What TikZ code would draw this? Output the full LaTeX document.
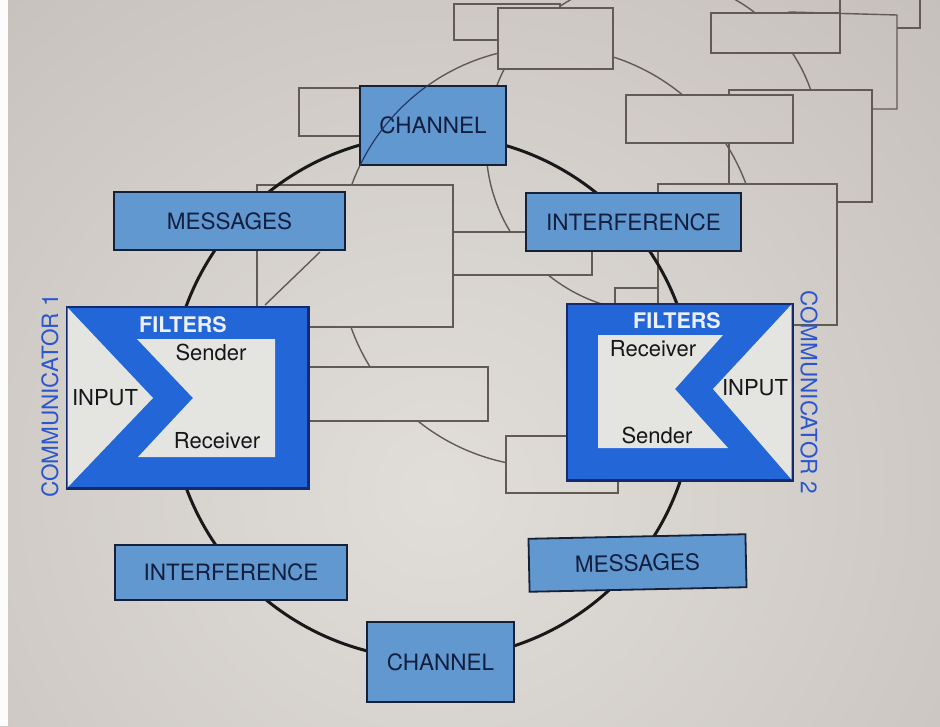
\documentclass[tikz,border=0pt]{standalone}
\usepackage{fontspec}
\setmainfont{TeX Gyre Heros}
\definecolor{bgin}{RGB}{225,222,218}
\definecolor{bgout}{RGB}{180,172,167}
\definecolor{ghost}{RGB}{98,90,84}
\definecolor{boxblue}{RGB}{98,152,208}
\definecolor{boxedge}{RGB}{22,32,55}
\definecolor{boxtext}{RGB}{18,30,62}
\definecolor{filterblue}{RGB}{34,102,216}
\definecolor{filteredge}{RGB}{20,42,110}
\definecolor{innerwhite}{RGB}{228,228,225}
\definecolor{commblue}{RGB}{42,86,205}
\definecolor{overprint}{RGB}{35,55,105}
\definecolor{ringcol}{RGB}{25,25,25}
\newcommand\pagebg{\shade[inner color=bgin, outer color=bgout] (-760,-660) rectangle (1640,1640);}
\newcommand\gbox[4]{\begin{scope}\clip (#1,#2) rectangle (#3,#4);\pagebg\end{scope}\draw[ghostline] (#1,#2) rectangle (#3,#4);}
\begin{document}
\begin{tikzpicture}[x=1pt,y=-1pt,
  ghostline/.style={draw=ghost, line width=1.4pt},
  ringline/.style={draw=ringcol, line width=3pt},
  lbox/.style={draw=boxedge, fill=boxblue, line width=1.8pt, text=boxtext,
    font=\fontsize{22.5}{24}\selectfont, inner sep=0pt},
  fbox/.style={fill=filterblue, draw=filteredge, line width=1.5pt, inner sep=0pt},
  wtext/.style={text={rgb,255:red,236;green,240;blue,248}, font=\fontsize{21.5}{23}\selectfont\bfseries, inner sep=0pt},
  btext/.style={text={rgb,255:red,22;green,22;blue,26}, font=\fontsize{22}{24}\selectfont, inner sep=0pt},
  ctext/.style={text=commblue, font=\fontsize{22.5}{24}\selectfont, inner sep=0pt}]
\useasboundingbox (0,0) rectangle (940,726);
\begin{scope}
\clip (0,0) rectangle (940,726);
\pagebg
\fill[white!92!bgin] (0,0) rectangle (8,726);
% ---- ghost layer 4 ----
\gbox{840}{-10}{920}{28}
% ---- ghost layer 3 ----
\begin{scope}\clip (789,12) rectangle (897,109);\pagebg\end{scope}
\draw[ghostline] (789,17) -- (789,12) -- (897,15) -- (897,109) -- (860,109);
% ---- ghost layer 2 ----
\draw[ghostline] (653,145) circle[radius=167];
\gbox{454}{4}{560}{40}
\gbox{711}{13}{840}{53}
\gbox{729}{90}{872}{202}
\gbox{440}{232}{592}{275}
\gbox{615}{288}{718}{340}
% ---- ghost layer 1 ----
\draw[ghostline] (549,257) circle[radius=210];
\gbox{498}{8}{613}{69}
\gbox{299}{88}{479}{136}
\gbox{626}{95}{793}{143}
\gbox{257}{185}{453}{327}
\gbox{658}{184}{837}{325}
\gbox{300}{367}{488}{421}
\gbox{506}{436}{618}{493}
\gbox{626}{369}{790}{411}
\draw[ghostline] (320,252) -- (265,305);
% ---- front ring ----
\coordinate (o) at (432,397);
\draw[ringline] (o) circle[radius=262];
% ---- front boxes ----
\node[lbox, minimum width=146pt, minimum height=79pt] (ch1) at (433,125.5) {CHANNEL};
\node[lbox, minimum width=231pt, minimum height=58pt] (msg1) at (229.5,221) {MESSAGES};
\node[lbox, minimum width=215pt, minimum height=58pt] (int1) at (633.5,222) {INTERFERENCE};
\node[lbox, minimum width=232pt, minimum height=55pt] (int2) at (231,572.5) {INTERFERENCE};
\node[lbox, minimum width=147pt, minimum height=80pt] (ch2) at (440.5,662) {CHANNEL};
\node[lbox, minimum width=217pt, minimum height=53pt, rotate=1.2] (msg2) at (637.5,563) {MESSAGES};
% overprinted ghost arc on the top channel box
\begin{scope}
\clip (ch1.south west) rectangle (ch1.north east);
\draw[overprint, line width=1.2pt] (549,257) circle[radius=210];
\end{scope}
% ---- filters 1 ----
\node[fbox, minimum width=241pt, minimum height=181pt] (f1) at (187.5,397.5) {};
\fill[innerwhite] (67.5,307.5) -- (153,398) -- (67.5,487.5) -- cycle;
\fill[innerwhite] (137,339) -- (275,339) -- (275,457) -- (138,457) -- (193,398) -- cycle;
\draw[filteredge, line width=1.5pt] (f1.north west) rectangle (f1.south east);
\node[wtext] (fl1) at (183,325) {FILTERS};
\node[btext] (s1) at (211,352) {Sender};
\node[btext] (r1) at (217,441) {Receiver};
\node[btext] (i1) at (105,398) {INPUT};
% ---- filters 2 ----
\node[fbox, minimum width=225pt, minimum height=176pt] (f2) at (679.5,392) {};
\fill[innerwhite] (791.5,304.5) -- (713,389) -- (791.5,479.5) -- cycle;
\fill[innerwhite] (598,335) -- (723,335) -- (675,389) -- (728,448) -- (598,448) -- cycle;
\draw[filteredge, line width=1.5pt] (f2.north west) rectangle (f2.south east);
\node[wtext] (fl2) at (677,321) {FILTERS};
\node[btext] (r2) at (653,349) {Receiver};
\node[btext] (s2) at (657,435) {Sender};
\node[btext] (i2) at (755,388) {INPUT};
% ---- communicator labels ----
\node[ctext, rotate=90] (c1) at (50,396) {COMMUNICATOR 1};
\node[ctext, rotate=-90] (c2) at (809,392) {COMMUNICATOR 2};
\end{scope}
\end{tikzpicture}
\end{document}
